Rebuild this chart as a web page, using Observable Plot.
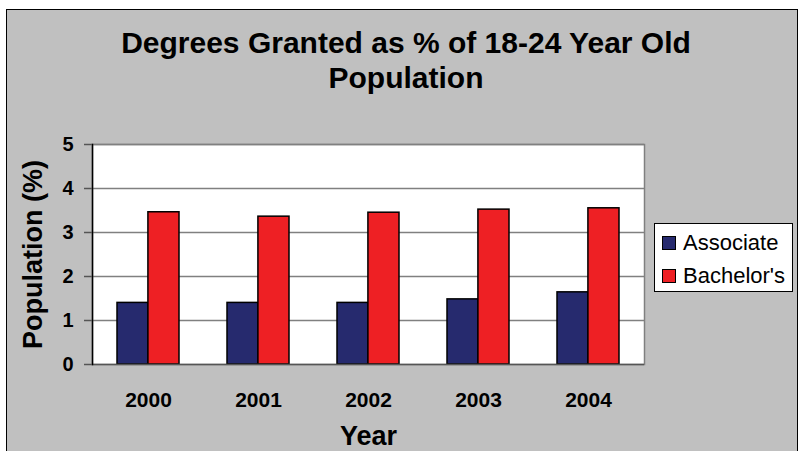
<!DOCTYPE html>
<html>
<head>
<meta charset="utf-8">
<script src="https://cdn.jsdelivr.net/npm/d3@7"></script>
<script src="https://cdn.jsdelivr.net/npm/@observablehq/plot@0.6"></script>
<style>
  body { margin: 0; background: #fff; font-family: "Liberation Sans", Arial, sans-serif; }
  #panel { position: absolute; left: 6px; top: 9px; width: 790px; height: 450px; background: #c0c0c0;
           border: 1px solid #000; border-bottom: none; }
  #chart { position: absolute; left: 0; top: 0; }
  #title { position: absolute; left: 10px; width: 792px; top: 25px; text-align: center;
           font-weight: bold; font-size: 30px; line-height: 35px; color: #000; }
  #legend { position: absolute; left: 654px; top: 223px; width: 139px; height: 69px; box-sizing: border-box;
            background: #fff; border: 1px solid #000; padding: 2px 0 0 7px; }
  .row { display: flex; align-items: center; height: 33px; font-size: 22px; color: #000; }
  .sw { width: 12px; height: 12px; border: 1px solid #000; margin-right: 7px; }
</style>
</head>
<body>
<div id="panel"></div>
<div id="chart"></div>
<div id="title">Degrees Granted as % of 18-24 Year Old<br>Population</div>
<div id="legend"></div>
<script>
// Degrees granted as a share of the 18–24 year old population, by year
const years = ["2000", "2001", "2002", "2003", "2004"];
const seriesNames = ["Associate", "Bachelor's"];
const associate = [1.4, 1.4, 1.4, 1.48, 1.64];
const bachelors = [3.46, 3.36, 3.45, 3.52, 3.55];
const yTicks = [0, 1, 2, 3, 4, 5];
const seriesColors = ["#262a6e", "#ee2024"];

const width = 798, height = 451;
const margin = { left: 92, right: 154, top: 144, bottom: 87 };
const padInner = 0.44, padOuter = 0.22;

// each year's band holds the two bars side by side, so each bar is half the band
const step = (width - margin.left - margin.right) / years.length;
const half = step * (1 - padInner) / 2;

const assocRows = years.map((year, i) => ({ year, series: seriesNames[0], value: associate[i] }));
const bachRows = years.map((year, i) => ({ year, series: seriesNames[1], value: bachelors[i] }));

const chart = Plot.plot({
  width, height,
  marginLeft: margin.left, marginRight: margin.right,
  marginTop: margin.top, marginBottom: margin.bottom,
  style: { background: "transparent", fontFamily: "'Liberation Sans', Arial, sans-serif", color: "#000" },
  x: { domain: years, paddingInner: padInner, paddingOuter: padOuter, label: null },
  y: { domain: [0, 5], label: null },
  color: { domain: seriesNames, range: seriesColors },
  marks: [
    Plot.frame({ fill: "white", stroke: "#808080", strokeWidth: 1.5 }),
    Plot.ruleY(yTicks.filter(t => t > 0), { stroke: "#808080", strokeWidth: 1.5 }),
    Plot.barY(assocRows, { x: "year", y: "value", fill: "series", stroke: "#000", strokeWidth: 1.5, insetLeft: 0, insetRight: half }),
    Plot.barY(bachRows, { x: "year", y: "value", fill: "series", stroke: "#000", strokeWidth: 1.5, insetLeft: half, insetRight: 0 }),
    Plot.ruleY([0], { stroke: "#555", strokeWidth: 1.5 }),
    Plot.frame({ anchor: "left", stroke: "#000", strokeWidth: 1.5 }),
    Plot.axisY({ ticks: yTicks, tickFormat: d3.format("d"), tickSize: 8, tickPadding: 11, fontSize: 20, fontWeight: "bold",
                 stroke: "#555", strokeWidth: 1.5, fill: "#000", label: null }),
    Plot.axisX({ tickSize: 0, tickPadding: 28, fontSize: 21, fontWeight: "bold", fill: "#000", label: null }),
    Plot.text(["Population (%)"], { text: d => d, frameAnchor: "left", dx: -59, rotate: -90,
                                     textAnchor: "middle", lineAnchor: "middle",
                                     fontSize: 27, fontWeight: "bold", fill: "#000" }),
    Plot.text(["Year"], { text: d => d, frameAnchor: "bottom", dy: 72, lineAnchor: "middle",
                          fontSize: 27, fontWeight: "bold", fill: "#000" })
  ]
});
document.getElementById("chart").append(chart);

// legend
const legend = document.getElementById("legend");
seriesNames.forEach((name, i) => {
  const row = document.createElement("div");
  row.className = "row";
  const sw = document.createElement("div");
  sw.className = "sw";
  sw.style.background = seriesColors[i];
  const label = document.createElement("span");
  label.textContent = name;
  row.append(sw, label);
  legend.append(row);
});
</script>
</body>
</html>
